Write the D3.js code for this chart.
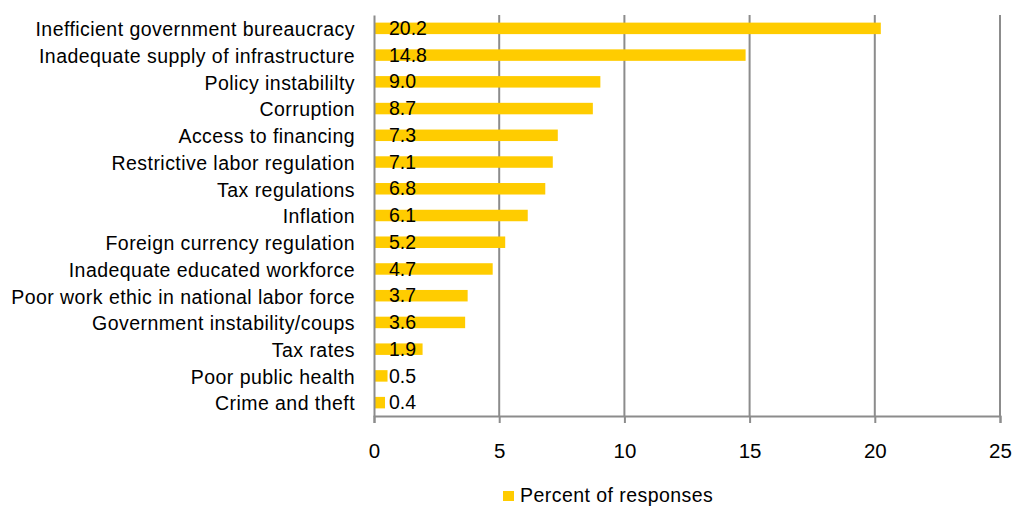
<!DOCTYPE html>
<html>
<head>
<meta charset="utf-8">
<script src="https://cdn.jsdelivr.net/npm/d3@7"></script>
<style>
  html, body { margin: 0; padding: 0; background: #fff; }
  svg { display: block; }
  text { font-family: "Liberation Sans", Arial, sans-serif; fill: #000; }
</style>
</head>
<body>
<svg id="chart" width="1015" height="506"></svg>
<script>
// Obstacles to doing business, share of responses (%)
const categories = [
  "Inefficient government bureaucracy",
  "Inadequate supply of infrastructure",
  "Policy instabililty",
  "Corruption",
  "Access to financing",
  "Restrictive labor regulation",
  "Tax regulations",
  "Inflation",
  "Foreign currency regulation",
  "Inadequate educated workforce",
  "Poor work ethic in national labor force",
  "Government instability/coups",
  "Tax rates ",
  "Poor public health",
  "Crime and theft"
];
const values = [20.2, 14.8, 9.0, 8.7, 7.3, 7.1, 6.8, 6.1, 5.2, 4.7, 3.7, 3.6, 1.9, 0.5, 0.4];
const xTicks = [0, 5, 10, 15, 20, 25];
const seriesName = "Percent of responses";

const barColor = "#FFCC00";
const gridColor = "#8c8c8c";
const fontSize = 19.5;
const spacing = "0.45px";

const svg = d3.select("#chart");
const margin = { top: 15, left: 374, right: 15, bottom: 90 };
const width = 1015 - margin.left - margin.right;
const height = 506 - margin.top - margin.bottom;

const x = d3.scaleLinear().domain([0, 25]).range([0, width]);
const y = d3.scaleBand().domain(categories).range([0, height]).paddingInner(0.57).paddingOuter(0.285);

const g = svg.append("g").attr("transform", `translate(${margin.left},${margin.top})`);

// vertical gridlines
g.append("g")
  .selectAll("line")
  .data(xTicks.filter(t => t > 0))
  .join("line")
  .attr("x1", d => x(d)).attr("x2", d => x(d))
  .attr("y1", 0).attr("y2", height)
  .attr("stroke", gridColor).attr("stroke-width", 2);

// bars
g.append("g")
  .selectAll("rect")
  .data(values)
  .join("rect")
  .attr("x", x(0) + 1)
  .attr("y", (d, i) => y(categories[i]))
  .attr("width", d => x(d) - x(0))
  .attr("height", y.bandwidth())
  .attr("fill", barColor);

// value labels near the bar base
g.append("g")
  .selectAll("text")
  .data(values)
  .join("text")
  .attr("x", x(0) + 15)
  .attr("y", (d, i) => y(categories[i]) + y.bandwidth() / 2 + 1.5)
  .attr("dominant-baseline", "middle")
  .attr("font-size", fontSize)
  .text(d => d.toFixed(1));

// bottom axis
const xAxis = g.append("g")
  .attr("transform", `translate(0,${height})`)
  .call(d3.axisBottom(x).tickValues(xTicks).tickSize(7).tickPadding(20).tickFormat(d3.format("d")));
xAxis.select(".domain").attr("stroke", gridColor).attr("stroke-width", 2);
xAxis.selectAll(".tick line").attr("stroke", gridColor).attr("stroke-width", 2);
xAxis.selectAll(".tick text").attr("font-size", 20.5).attr("font-family", "Liberation Sans, Arial, sans-serif").attr("fill", "#000");

// left axis with category names
const yAxis = g.append("g")
  .call(d3.axisLeft(y).tickSize(0).tickPadding(19));
yAxis.select(".domain").attr("stroke", gridColor).attr("stroke-width", 2);
yAxis.selectAll(".tick text")
  .attr("font-size", fontSize)
  .attr("font-family", "Liberation Sans, Arial, sans-serif")
  .attr("letter-spacing", spacing)
  .attr("fill", "#000")
  .attr("dy", "0.4em");

// legend
const legend = svg.append("g").attr("transform", "translate(503,491)");
legend.append("rect").attr("width", 11).attr("height", 10).attr("fill", barColor);
legend.append("text")
  .attr("x", 17).attr("y", 6)
  .attr("dominant-baseline", "middle")
  .attr("font-size", fontSize)
  .attr("letter-spacing", spacing)
  .text(seriesName);
</script>
</body>
</html>
